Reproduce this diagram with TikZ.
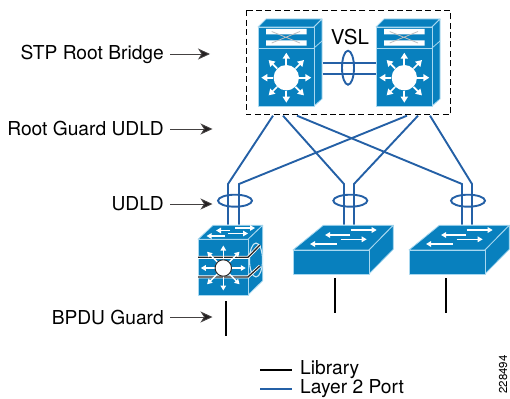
\documentclass[tikz,border=0pt]{standalone}
\usepackage{fontspec}
\setmainfont{TeX Gyre Heros}
\usetikzlibrary{arrows.meta}
\definecolor{devblue}{HTML}{0880BE}
\definecolor{edge}{HTML}{A8D8F0}
\definecolor{linkblue}{HTML}{2460A6}
\definecolor{tipdark}{HTML}{231F20}
\tikzset{
  x=1pt,y=-1pt,
  face/.style={fill=devblue,draw=edge,line width=.8pt,line join=round},
  link/.style={draw=linkblue,line width=1.9pt,line join=miter},
  ringstyle/.style={draw=linkblue,line width=1.9pt},
  lib/.style={draw=black,line width=2pt},
  label/.style={font=\fontsize{19.2}{21}\selectfont,inner sep=0pt,anchor=east},
  legendtext/.style={font=\fontsize{19.2}{21}\selectfont,inner sep=0pt,anchor=base west},
  pointer/.style={draw=tipdark!85!white,line width=.9pt,-{Stealth[length=12pt,width=11pt,inset=3.5pt,fill=tipdark]}},
  wa/.style={draw=white,line width=1.7pt,-{Triangle[length=6pt,width=7pt,fill=white]}},
  wb/.style={draw=white,line width=1.4pt,-{Triangle[length=5pt,width=5.5pt,fill=white]}},
  chassis/.pic={
    \path[face] (0,8) -- (8,0) -- (64,0) -- (56,8) -- cycle;
    \path[face] (56,8) -- (64,0) -- (64,80) -- (56,87) -- cycle;
    \path[face] (0,8) rectangle (56,29);
    \path[face] (0,29) rectangle (56,87);
    \draw[edge,line width=.8pt] (56,29) -- (64,22);
    \fill[white] (8,10) rectangle (48.7,15.3) (8,21.3) rectangle (48.7,26.7);
    \draw[black!25,line width=.8pt] (13.7,12.5) -- (42,24) (13.7,24) -- (42,12.5);
    \fill[white] (28.3,58.7) circle (12.7pt);
    \foreach \a in {0,45,...,315}
      \draw[wa] (28.3,58.7) ++(\a:13pt) -- ++(\a:12pt);
  },
  flatsw/.pic={
    \path[face] (0,0) -- (30.3,-24.7) -- (100.3,-24.7) -- (76,0) -- cycle;
    \path[face] (76,0) -- (100.3,-24.7) -- (100.3,-0.7) -- (76,24) -- cycle;
    \path[face] (0,0) rectangle (76,24);
    \draw[wb] (57,-15) -- (32,-15);
    \draw[wb] (57.7,-20) -- (83.7,-20);
    \draw[wb] (43.7,-6) -- (17,-6);
    \draw[wb] (47.7,-10.7) -- (73.7,-10.7);
  }
}
\begin{document}
\begin{tikzpicture}
\useasboundingbox (0,0) rectangle (510,398);
% coordinates
\coordinate (boxa) at (246.5,10.5);
\coordinate (boxb) at (450.5,115);
\coordinate (ra1) at (273,115.7); \coordinate (ra2) at (283,115.7); \coordinate (ra3) at (297,115.7);
\coordinate (rb1) at (407,115.7); \coordinate (rb2) at (418,115.7); \coordinate (rb3) at (430,115.7);
\coordinate (a1) at (228,224.5); \coordinate (a2) at (239,224.5);
\coordinate (b1) at (344,224.5); \coordinate (b2) at (354,224.5);
\coordinate (c1) at (462,224.5); \coordinate (c2) at (472,224.5);
\coordinate (vl1) at (322.7,62.7); \coordinate (vr1) at (376,62.7);
\coordinate (vl2) at (322.7,73.7); \coordinate (vr2) at (376,73.7);
% dashed box
\draw[black,line width=1pt,dash pattern=on 6pt off 3.4pt] (boxa) rectangle (boxb);
% chassis switches
\pic at (258,19) {chassis};
\pic at (376,19) {chassis};
% VSL
\draw[link] (vl1) -- (vr1);
\draw[link] (vl2) -- (vr2);
\draw[ringstyle] (348,67.7) ellipse [x radius=6pt,y radius=17pt];
\node[font=\fontsize{20.5}{22}\selectfont,inner sep=0pt] (vsl) at (350,37) {VSL};
% links
\draw[link] (ra1) -- (228,184) -- (a1);
\draw[link] (ra2) -- (344,184) -- (b1);
\draw[link] (ra3) -- (462,184) -- (c1);
\draw[link] (rb1) -- (239,184) -- (a2);
\draw[link] (rb2) -- (354,184) -- (b2);
\draw[link] (rb3) -- (472,184) -- (c2);
\draw[ringstyle] (235,200.7) ellipse [x radius=17pt,y radius=6pt];
\draw[ringstyle] (350.3,200.7) ellipse [x radius=17pt,y radius=6pt];
\draw[ringstyle] (468,200.7) ellipse [x radius=17pt,y radius=6pt];
% stacked switch
\path[face] (198,239.3) -- (213,225.3) -- (262.7,225.3) -- (248,239.3) -- cycle;
\path[face] (248,239.3) -- (262.7,225.3) -- (262.7,280.7) -- (248,295) -- cycle;
\path[face] (198,239.3) rectangle (248,295);
\draw[edge!60!white,line width=1.1pt] (256,260) ellipse [x radius=6.5pt,y radius=17pt];
\foreach \p/\q in {257.3/245,276.9/266}{
  \draw[white,line width=3pt] (198,\p) -- (248,\p) -- (260,\q);
  \draw[black!85,line width=1.3pt] (198,\p) -- (248,\p) -- (260,\q);
}
\draw[wb] (230,230.5) -- (216,230.5);
\draw[wb] (235,228) -- (255,228);
\draw[wb] (225,236) -- (206.5,236);
\draw[wb] (228,233.5) -- (248,233.5);
\foreach \a in {0,90,180,270}
  \draw[wb] (223.3,268) ++(\a:8pt) -- ++(\a:14.5pt);
\foreach \a in {45,135,225,315}
  \draw[wb] (223.3,268) ++(\a:8pt) -- ++(\a:15pt);
\filldraw[fill=white,draw=black!85,line width=.9pt] (223.3,268) circle (8.2pt);
% access switches
\pic at (293,250) {flatsw};
\pic at (409,250) {flatsw};
% library lines
\draw[lib] (225.7,301) -- (225.7,335.7);
\draw[lib] (334.7,278) -- (334.7,313);
\draw[lib] (446.3,278) -- (446.3,313);
% labels
\node[label] (stp) at (164,54) {STP Root Bridge};
\coordinate (stpt) at (210,54);
\draw[pointer] (stp.east -| 170,54) -- (stpt);
\node[label] (rg) at (164,129) {Root Guard UDLD};
\coordinate (rgt) at (212.5,129);
\draw[pointer] (rg.east -| 170,129) -- (rgt);
\node[label] (ud) at (164,204) {UDLD};
\coordinate (udt) at (212.5,204);
\draw[pointer] (ud.east -| 170,204) -- (udt);
\node[label] (bp) at (164,317) {BPDU Guard};
\coordinate (bpt) at (212.5,317);
\draw[pointer] (bp.east -| 170,317) -- (bpt);
% legend
\coordinate (la) at (260,369.7); \coordinate (lb) at (291.7,369.7);
\coordinate (lc) at (260,389); \coordinate (ld) at (291.7,389);
\draw[lib] (la) -- (lb);
\draw[draw=linkblue,line width=1.9pt] (lc) -- (ld);
\node[legendtext] (leg1) at (300,374.3) {Library};
\node[legendtext] (leg2) at (300,393.6) {Layer 2 Port};
\node[font=\fontsize{11.5}{13}\selectfont,inner sep=0pt,rotate=90] (fig) at (503,374.5) {228494};
\end{tikzpicture}
\end{document}
